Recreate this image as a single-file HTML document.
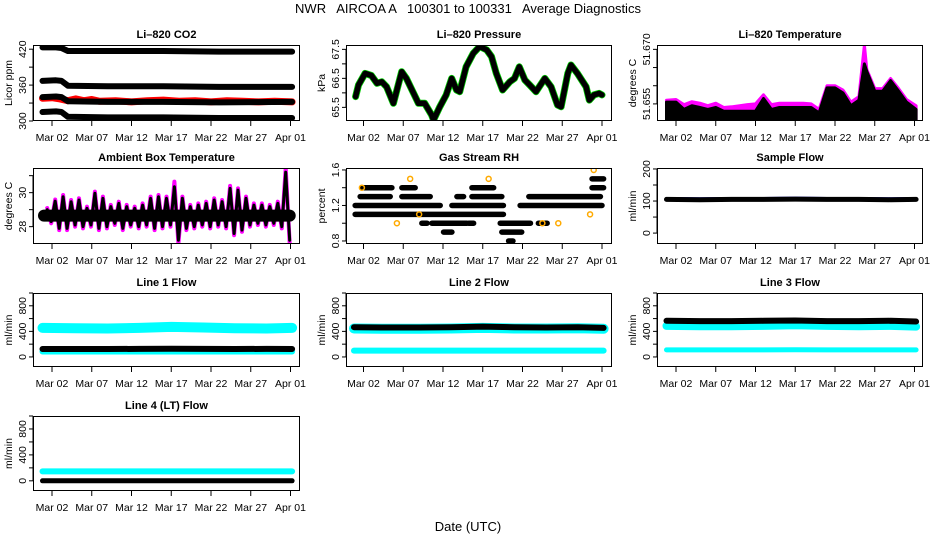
<!DOCTYPE html>
<html><head><meta charset="utf-8">
<style>
html,body{margin:0;padding:0;background:#fff;}
svg{display:block;font-family:"Liberation Sans",Arial,sans-serif;}
</style></head>
<body>
<svg id="chart" width="936" height="540" viewBox="0 0 936 540" xmlns="http://www.w3.org/2000/svg">
<rect x="0" y="0" width="936" height="540" fill="#fff"/>
<text x="468" y="13" text-anchor="middle" font-size="13" xml:space="preserve">NWR   AIRCOA A   100301 to 100331   Average Diagnostics</text>
<text x="468" y="531" text-anchor="middle" font-size="13">Date (UTC)</text>
</svg>
<script>
// ---- data (day index: 1 = Mar 02, 31 = Apr 01) ----
const xTickDays = [1,6,11,16,21,26,31];
const xTickLabels = ["Mar 02","Mar 07","Mar 12","Mar 17","Mar 22","Mar 27","Apr 01"];

const co2Days = [-0.2,1.5,2.2,3,8,15,22,31.2];
const co2High = [423,423,422,417,417,417,416,416];
const co2Mid = [367,368,367,359,358,358,357,357];
const co2Low = [340,341,340,333,332,332,331,332];
const co2Bottom = [315,316,315,307,306,306,305,305];
const co2RedDays = [-0.2,1,2,3,4,5,6,7,9,11,13,15,17,19,21,23,25,27,29,31.2];
const co2Red = [338,339,337,334,337,334,336,333,334,332,334,335,333,334,332,334,333,332,333,332];

const presDays = [0,0.37,1.2,2.0,2.7,3.3,3.9,4.76,5.2,5.8,6.4,7.5,7.9,8.7,9.56,9.8,10.6,11.4,12.1,12.7,13.1,13.9,14.8,15.6,16.5,17.1,17.7,18.5,19.4,20.0,20.6,21.3,21.9,22.7,23.8,24.6,25.4,25.85,26.7,27.1,27.9,29.0,29.4,30.0,30.65,31.0];
const presVals = [65.87,66.27,66.67,66.6,66.33,66.38,66.21,65.64,66.1,66.73,66.5,65.87,65.64,65.64,65.24,65.06,65.52,65.93,66.5,66.1,66.04,66.9,67.36,67.6,67.48,67.25,66.67,66.1,66.38,66.5,66.9,66.44,66.27,66.04,66.5,66.21,65.58,65.52,66.67,66.96,66.67,66.21,65.75,65.93,65.98,65.93];

const tempDays = [-0.2,1,2,3,4,5,6,7,8,9,10,11,12,13,14,15,16,17,18,19,20,21,22,23,24,24.7,25,26,27,28,29,30,31.2];
const tempBlack = [51.6555,51.6555,51.6535,51.6545,51.6540,51.6535,51.6540,51.6530,51.6530,51.6530,51.6530,51.6530,51.6565,51.6535,51.6540,51.6540,51.6540,51.6540,51.6540,51.6525,51.6594,51.6594,51.6580,51.6545,51.6560,51.6660,51.6639,51.6585,51.6585,51.6614,51.6585,51.6555,51.6535];
const tempMagenta = [51.6560,51.6562,51.6548,51.6556,51.6552,51.6545,51.6552,51.6540,51.6542,51.6545,51.6548,51.6550,51.6575,51.6548,51.6552,51.6552,51.6552,51.6552,51.6550,51.6535,51.6600,51.6600,51.6588,51.6555,51.6570,51.6712,51.6645,51.6592,51.6592,51.6620,51.6592,51.6562,51.6545];

const ambDays = [0,1,2,3,4,5,6,7,8,9,10,11,12,13,14,15,16,17,18,19,20,21,22,23,24,25,26,27,28,29,30];
const ambMax = [29.0,29.5,29.76,29.47,29.57,29.08,29.96,29.67,29.18,29.37,29.18,29.08,29.27,29.67,29.76,29.67,30.35,29.67,29.18,29.27,29.37,29.57,29.47,30.25,30.15,29.67,29.27,29.27,29.18,29.37,31.2];
const ambMin = [28.3,27.9,27.9,28.1,28.0,28.1,27.9,28.0,28.2,27.9,28.1,28.0,28.1,27.9,28.0,28.1,27.2,27.9,28.0,28.1,28.0,28.1,28.0,27.6,27.8,28.1,28.2,28.1,28.2,28.0,27.2];
const ambMagentaMax = [29.1,29.6,29.86,29.57,29.67,29.18,30.06,29.77,29.28,29.47,29.28,29.18,29.37,29.77,29.86,29.77,30.65,29.77,29.28,29.37,29.47,29.67,29.57,30.4,30.25,29.77,29.37,29.37,29.28,29.47,31.45];
const ambMagentaMin = [28.2,27.8,27.8,28.0,27.9,28.0,27.8,27.9,28.1,27.8,28.0,27.9,28.0,27.8,27.9,28.0,27.0,27.8,27.9,28.0,27.9,28.0,27.9,27.5,27.7,28.0,28.1,28.0,28.1,27.9,27.0];

const rhStart = [-0.05,-0.05,12.12,20.7,0.58,5.83,12.75,14.64,21.8,0.79,5.83,14.64,29.75,8.34,9.6,14.22,18.2,23.0,11.07,18.4,19.25,29.75];
const rhEnd   = [10.65,18.6,18.6,31.0,4.36,9.39,13.59,18.4,30.8,4.57,7.5,17.37,31.2,9.0,14.0,14.85,22.0,24.1,12.12,20.9,19.8,31.2];
const rhLevel = [1.2,1.1,1.2,1.2,1.3,1.3,1.3,1.3,1.3,1.4,1.4,1.4,1.4,1.0,1.0,1.0,1.0,1.0,0.9,0.9,0.8,1.5];
const rhOrangeDays = [5.2,6.87,0.8,16.74,29.96,8.0,23.5,25.5,29.5];
const rhOrangeVals = [1.0,1.5,1.4,1.5,1.6,1.1,1.0,1.0,1.1];

const flatDays = [-0.2,4,8,12,16,20,24,28,31.2];
const sampleFlow = [105,104,105,105,106,105,105,104,105];
const l1Cyan = [455,450,445,455,470,460,450,445,455];
const l1Black = [125,125,124,126,127,126,125,126,125];
const l1CyanLow = [85,85,85,85,85,85,85,85,85];
const l2Cyan = [445,440,440,445,455,445,445,450,440];
const l2Black = [465,460,460,465,475,465,460,465,455];
const l2CyanLow = [100,100,100,100,100,100,100,100,100];
const l3Cyan = [485,480,480,485,495,485,480,485,475];
const l3Black = [565,560,560,565,570,560,560,565,555];
const l3CyanLow = [110,110,110,110,112,110,110,110,110];
const l4Cyan = [145,145,145,145,145,145,145,145,145];
const l4Black = [0,0,0,0,0,0,0,0,0];

// ---- layout ----
const svg = document.getElementById('chart');
const NS = 'http://www.w3.org/2000/svg';
function mk(tag, attrs, parent){
  const e = document.createElementNS(NS, tag);
  for (const k in attrs) e.setAttribute(k, attrs[k]);
  (parent||svg).appendChild(e);
  return e;
}
const cols = [{l:33,r:300,t0:19},{l:346,r:612,t0:17.5},{l:657,r:923,t0:19}];
const rows = [{t:45,b:121},{t:168,b:244},{t:293,b:367},{t:416,b:491}];
const PXDAY = 7.95;

function makePanel(name, title, ytitle, col, row, ymin, ymax, ticks, labels){
  const c = cols[col], r = rows[row];
  const g = mk('g', {});
  
  
  const P = {
    g,
    x: d => c.l + c.t0 + (d - 1) * PXDAY,
    y: v => r.t + (ymax - v) / (ymax - ymin) * (r.b - r.t),
    c, r
  };
  const clipId = 'clip-' + name;
  const cp = mk('clipPath', {id: clipId}, g);
  mk('rect', {x:c.l, y:r.t, width:c.r-c.l, height:r.b-r.t}, cp);
  P.plot = mk('g', {'clip-path':'url(#'+clipId+')'}, g);
  
  
  const tt = mk('text', {x:(c.l+c.r)/2, y:r.t-7, 'text-anchor':'middle', 'font-size':'11', 'font-weight':'bold'}, g);
  tt.textContent = title;
  
  
  const yt = mk('text', {x:0, y:0, 'text-anchor':'middle', 'font-size':'10.5', transform:'translate('+(c.l-21)+','+((r.t+r.b)/2)+') rotate(-90)'}, g);
  yt.textContent = ytitle;
  
  
  mk('line', {x1:c.l, x2:c.l, y1:P.y(ticks[0]), y2:P.y(ticks[ticks.length-1]), stroke:'#000'}, g);
  ticks.forEach((t,i) => {
    const yy = P.y(t);
    mk('line', {x1:c.l-4, x2:c.l, y1:yy, y2:yy, stroke:'#000'}, g);
    if (labels[i]) {
      const lt = mk('text', {x:0, y:0, 'text-anchor':'middle', 'font-size':'10.5', transform:'translate('+(c.l-7)+','+yy+') rotate(-90)'}, g);
      lt.textContent = labels[i];
      
      
    }
  });
  xTickDays.forEach((d,i) => {
    const xx = P.x(d);
    mk('line', {x1:xx, x2:xx, y1:r.b, y2:r.b+5, stroke:'#000'}, g);
    const lt = mk('text', {x:xx, y:r.b+20, 'text-anchor':'middle', 'font-size':'10.5'}, g);
    lt.textContent = xTickLabels[i];
    
    
  });
  const bx = mk('rect', {x:c.l+0.5, y:r.t+0.5, width:c.r-c.l-1, height:r.b-r.t-1, fill:'none', stroke:'#000'}, g);
  
  
  return P;
}

function line(P, days, vals, color, w, nm){
  const pts = days.map((d,i) => P.x(d).toFixed(1) + ',' + P.y(vals[i]).toFixed(1)).join(' ');
  const pl = mk('polyline', {points:pts, fill:'none', stroke:color, 'stroke-width':w, 'stroke-linejoin':'round', 'stroke-linecap':'round'}, P.plot);
  
  
  return pl;
}
function area(P, days, vals, base, color, nm){
  let pts = days.map((d,i) => P.x(d).toFixed(1) + ',' + P.y(vals[i]).toFixed(1));
  pts.push(P.x(days[days.length-1]).toFixed(1) + ',' + P.y(base).toFixed(1));
  pts.push(P.x(days[0]).toFixed(1) + ',' + P.y(base).toFixed(1));
  const pg = mk('polygon', {points:pts.join(' '), fill:color, stroke:color, 'stroke-width':'3', 'stroke-linejoin':'round'}, P.plot);
  
  
}

// Panel 1: CO2
let P = makePanel('co2', 'Li\u2013820 CO2', 'Licor ppm', 0, 0, 300, 427, [300,330,360,390,420], ['300','','360','','420']);
line(P, co2Days, co2High, '#000', 6, 'co2-series-high');
line(P, co2Days, co2Mid, '#000', 6, 'co2-series-mid');
line(P, co2RedDays, co2Red, '#f00', 7, 'co2-series-red');
line(P, co2Days, co2Low, '#000', 6, 'co2-series-low');
line(P, co2Days, co2Bottom, '#000', 6, 'co2-series-bottom');

// Panel 2: pressure
P = makePanel('pressure', 'Li\u2013820 Pressure', 'kPa', 1, 0, 65.03, 67.65, [65.5,66,66.5,67,67.5], ['65.5','','66.5','','67.5']);
line(P, presDays, presVals, '#0c0', 7, 'pressure-series-green');
line(P, presDays, presVals, '#000', 5.5, 'pressure-series');

// Panel 3: temperature
P = makePanel('li820-temp', 'Li\u2013820 Temperature', 'degrees C', 2, 0, 51.6503, 51.6712, [51.655,51.66,51.665,51.67], ['51.655','','','51.670']);
area(P, tempDays, tempMagenta, 51.6490, '#f0f', 'temp-series-magenta');
area(P, tempDays, tempBlack, 51.6490, '#000', 'temp-series-black');

// Panel 4: ambient box temp
P = makePanel('ambient', 'Ambient Box Temperature', 'degrees C', 0, 1, 26.98, 31.45, [28,29,30,31], ['28','','30','']);
{
  const zd = [], zm = [], zdm = [], zmm = [];
  ambDays.forEach((d,i) => {
    zd.push(d + 0.4); zm.push(ambMax[i]); zd.push(d + 0.9); zm.push(ambMin[i]);
    zdm.push(d + 0.4); zmm.push(ambMagentaMax[i]); zdm.push(d + 0.9); zmm.push(ambMagentaMin[i]);
  });
  line(P, zdm, zmm, '#f0f', 4, 'ambient-series-magenta');
  line(P, zd, zm, '#000', 3, 'ambient-series-black');
  const core = ambDays.map(() => 28.65);
  line(P, ambDays.concat([30.9]), core.concat([28.65]), '#000', 12, 'ambient-series-core');
}

// Panel 5: RH
P = makePanel('rh', 'Gas Stream RH', 'percent', 1, 1, 0.766, 1.622, [0.8,1.0,1.2,1.4,1.6], ['0.8','','1.2','','1.6']);
rhLevel.forEach((lv,i) => {
  const y = P.y(lv);
  const s = mk('line', {x1:P.x(rhStart[i]), x2:P.x(rhEnd[i]), y1:y, y2:y, stroke:'#000', 'stroke-width':'5.5', 'stroke-linecap':'round'}, P.plot);
  
  
});
rhOrangeDays.forEach((d,i) => {
  const ci = mk('circle', {cx:P.x(d), cy:P.y(rhOrangeVals[i]), r:2.5, fill:'none', stroke:'#fa0', 'stroke-width':'1.5'}, P.plot);
  
  
});

// Panel 6: sample flow
P = makePanel('sample-flow', 'Sample Flow', 'ml/min', 2, 1, -34, 203, [0,50,100,150,200], ['0','','100','','200']);
line(P, flatDays, sampleFlow.map(v => v + 3), '#00f', 3, 'sample-flow-series-blue');
line(P, flatDays, sampleFlow, '#000', 5, 'sample-flow-series');

const flowTicks = [0,200,400,600,800,1000];
const flowLabels = ['0','','400','','800',''];
P = makePanel('line1-flow', 'Line 1 Flow', 'ml/min', 0, 2, -157, 1000, flowTicks, flowLabels);
line(P, flatDays, l1Cyan, '#0ff', 10, 'line1-series-cyan');
line(P, flatDays, l1CyanLow, '#0ff', 6, 'line1-series-cyan-low');
line(P, flatDays, l1Black, '#000', 6, 'line1-series-black');
P = makePanel('line2-flow', 'Line 2 Flow', 'ml/min', 1, 2, -157, 1000, flowTicks, flowLabels);
line(P, flatDays, l2Cyan, '#0ff', 10, 'line2-series-cyan');
line(P, flatDays, l2CyanLow, '#0ff', 6, 'line2-series-cyan-low');
line(P, flatDays, l2Black, '#000', 6, 'line2-series-black');
P = makePanel('line3-flow', 'Line 3 Flow', 'ml/min', 2, 2, -157, 1000, flowTicks, flowLabels);
line(P, flatDays, l3Cyan, '#0ff', 8, 'line3-series-cyan');
line(P, flatDays, l3Black, '#000', 6, 'line3-series-black');
line(P, flatDays, l3CyanLow, '#0ff', 5, 'line3-series-cyan-low');
P = makePanel('line4-flow', 'Line 4 (LT) Flow', 'ml/min', 0, 3, -157, 1000, flowTicks, flowLabels);
line(P, flatDays, l4Cyan, '#0ff', 6, 'line4-series-cyan');
line(P, flatDays, l4Black, '#000', 5, 'line4-series-black');
</script>
</body></html>
